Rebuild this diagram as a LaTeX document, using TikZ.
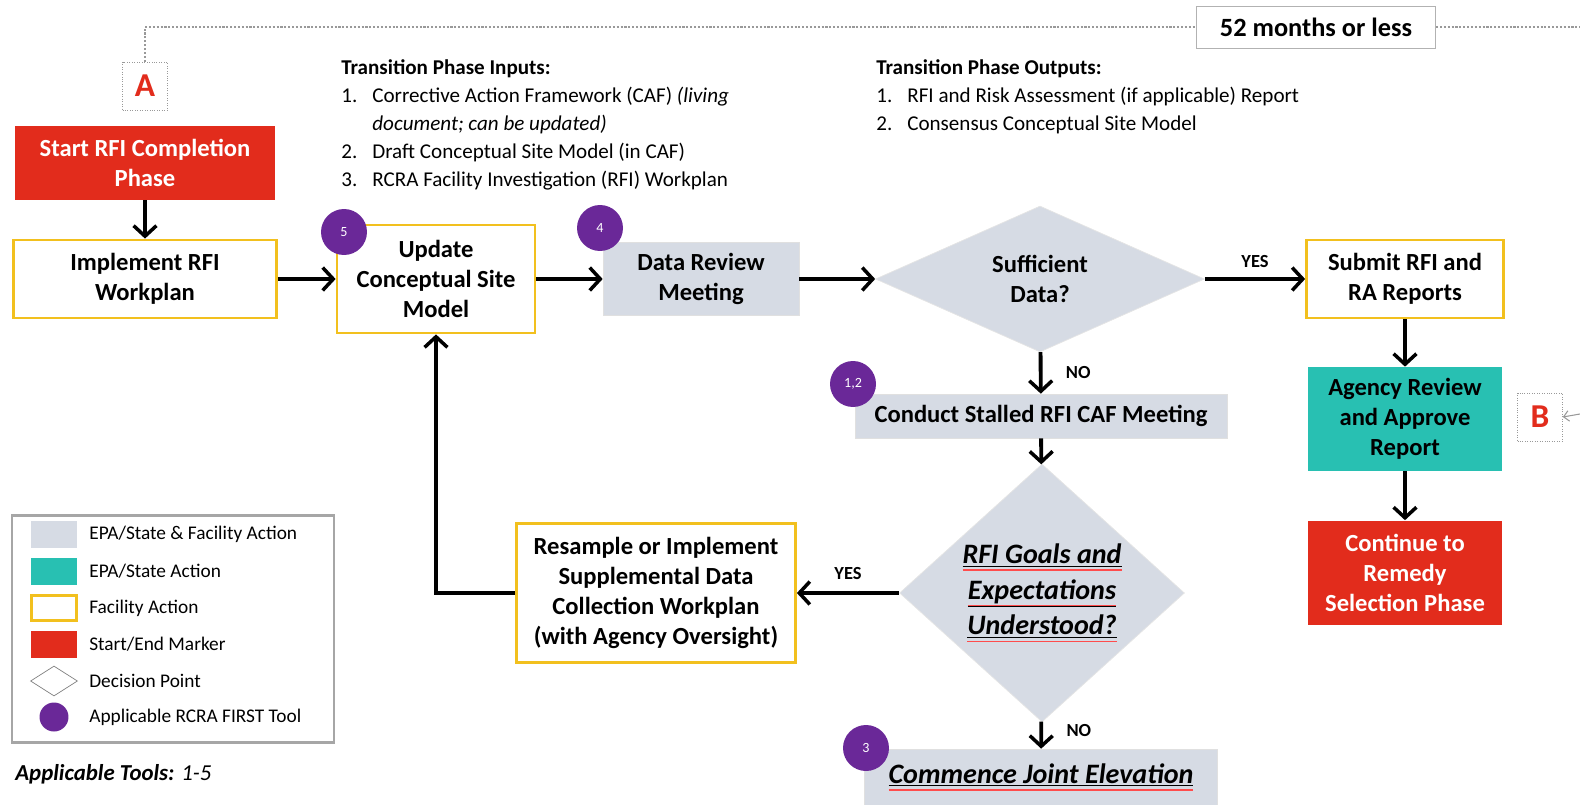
\documentclass[tikz,border=0pt]{standalone}
\usepackage{fontspec}
\setmainfont{Carlito}
\usepackage{xcolor}
\usepackage{tikz}
\usetikzlibrary{shapes.geometric}
\usetikzlibrary{arrows.meta}
\usetikzlibrary{positioning}
\definecolor{actgray}{RGB}{214,219,228}
\definecolor{actteal}{RGB}{40,192,178}
\definecolor{actred}{RGB}{226,44,28}
\definecolor{actgold}{RGB}{242,192,30}
\definecolor{toolpurple}{RGB}{106,40,152}
\newsavebox\spellbox
\newcommand\spell[1]{\sbox\spellbox{#1}\rlap{\textcolor{red!70}{\rule[-0.55ex]{\wd\spellbox}{0.9pt}}}\underline{\usebox\spellbox}}
\tikzset{
    facil/.style = {rectangle, draw=actgold, line width=1.6pt, fill=white, align=center, inner sep=2pt, font=\fontsize{14}{17}\selectfont\bfseries},
    joint/.style = {rectangle, draw=black!12, fill=actgray, align=center, inner sep=2pt, font=\fontsize{14}{17}\selectfont\bfseries},
    agency/.style = {rectangle, fill=actteal, align=center, inner sep=2pt, font=\fontsize{14}{17}\selectfont\bfseries},
    marker/.style = {rectangle, fill=actred, text=white, align=center, inner sep=2pt, font=\fontsize{14}{17}\selectfont\bfseries},
    decide/.style = {diamond, draw=black!10, fill=actgray, align=center, inner sep=0pt, font=\fontsize{14}{17}\selectfont\bfseries},
    tool/.style = {circle, fill=toolpurple, text=white, inner sep=0pt, minimum size=0.92cm, font=\fontsize{8}{9}\selectfont},
    letter/.style = {rectangle, draw=black!40, densely dotted, fill=white, text=actred, minimum width=0.9cm, minimum height=0.96cm, font=\fontsize{19}{21}\selectfont\bfseries},
}
\begin{document}
\begin{tikzpicture}[
	x=0.02cm, y=-0.02cm,
	arr/.style = {-{Straight Barb[length=6pt,width=13pt,line width=2pt]}, line width=2.2pt},
	lbl/.style = {font=\fontsize{10.5}{12}\selectfont\bfseries},
	leg/.style = {anchor=west, inner sep=0pt, font=\fontsize{11}{13}\selectfont},
	swatch/.style = {rectangle, minimum width=0.94cm, minimum height=0.54cm, inner sep=0pt}
]
\useasboundingbox (0,0) rectangle (1580,805);
% connectors A / B and time span
\node[letter] at (145,86) (a) {A};
\node[letter] at (1540,417) (b) {B};
\coordinate (topend) at (1580,27);
\coordinate (bin) at (1580,414);
\draw[black!40, densely dotted, line width=1.2pt] (a.north) |- (topend);
\draw[black!40, line width=0.6pt, -{Straight Barb[length=3pt,width=6pt]}] (bin) -- (b.east);
\node[rectangle, draw=black!30, fill=white, minimum width=4.78cm, minimum height=0.84cm, font=\fontsize{15}{18}\selectfont\bfseries] at (1316,27) (months) {52 months or less};
%
\node[anchor=north west, inner sep=0pt, font=\fontsize{12}{15.9}\selectfont] at (341,55) (inputs) {%
\begin{tabular}{@{}p{0.62cm}@{}l@{}}
\multicolumn{2}{@{}l@{}}{\bfseries Transition Phase Inputs:}\\
1. & Corrective Action Framework (CAF) \textit{(living}\\
   & \textit{document; can be updated)}\\
2. & Draft Conceptual Site Model (in CAF)\\
3. & RCRA Facility Investigation (RFI) Workplan
\end{tabular}};
\node[anchor=north west, inner sep=0pt, font=\fontsize{12}{15.9}\selectfont] at (876,55) (outputs) {%
\begin{tabular}{@{}p{0.62cm}@{}l@{}}
\multicolumn{2}{@{}l@{}}{\bfseries Transition Phase Outputs:}\\
1. & RFI and Risk Assessment (if applicable) Report\\
2. & Consensus Conceptual Site Model
\end{tabular}};
%
\node[marker, minimum width=5.22cm, minimum height=1.48cm] at (145,163) (start) {Start RFI Completion\\Phase};
\node[facil, minimum width=5.26cm, minimum height=1.56cm] at (145,279) (impl) {Implement RFI\\Workplan};
\node[facil, minimum width=3.96cm, minimum height=2.16cm] at (436,279) (update) {Update\\Conceptual Site\\Model};
\node[joint, minimum width=3.92cm, minimum height=1.46cm] at (701,279) (datarev) {Data Review\\Meeting};
\node[decide, minimum width=6.58cm, minimum height=2.92cm] at (1040,279) (suff) {Sufficient\\Data?};
\node[facil, minimum width=3.94cm, minimum height=1.56cm] at (1405,279) (submit) {Submit RFI and\\RA Reports};
\node[agency, minimum width=3.9cm, minimum height=2.08cm] at (1405,419) (approve) {Agency Review\\and Approve\\Report};
\node[marker, minimum width=3.9cm, minimum height=2.1cm] at (1405,573) (cont) {Continue to\\Remedy\\Selection Phase};
\node[joint, minimum width=7.44cm, minimum height=0.88cm] at (1041,416) (stall) {Conduct Stalled RFI CAF Meeting};
\node[decide, minimum width=5.7cm, minimum height=4.62cm, font=\fontsize{16}{20.4}\selectfont\bfseries\itshape] at (1042,593) (goals) {\spell{RFI Goals and}\\\spell{Expectations}\\\spell{Understood?}};
\node[facil, minimum width=5.58cm, minimum height=2.78cm] at (656,593) (resample) {Resample or Implement\\Supplemental Data\\Collection Workplan\\(with Agency Oversight)};
\node[joint, minimum width=7.06cm, minimum height=1.12cm, font=\fontsize{16}{19}\selectfont\bfseries\itshape] at (1041,777) (commence) {\spell{Commence Joint Elevation}};
%
\node[tool] at (344,232) (t5) {5};
\node[tool] at (600,228) (t4) {4};
\node[tool] at (853,384) (t12) {1,2};
\node[tool] at (866,748) (t3) {3};
%
\draw[arr] (start) -- (impl);
\draw[arr] (impl) -- (update);
\draw[arr] (update) -- (datarev);
\draw[arr] (datarev) -- (suff);
\draw[arr] (suff) -- node[lbl, above=2pt] {YES} (submit);
\draw[arr] (submit) -- (approve);
\draw[arr] (approve) -- (cont);
\draw[arr] (suff) -- node[lbl, right=0.35cm] {NO} (stall);
\draw[arr] (stall) -- (goals);
\draw[arr] (goals) -- node[lbl, above=3pt] {YES} (resample);
\draw[arr] (goals) -- node[lbl, right=0.35cm, yshift=0.1cm] {NO} (commence);
\draw[arr] (resample.west) -| (update.south);
%
% legend
\node[rectangle, draw=black!35, line width=1.4pt, minimum width=6.44cm, minimum height=4.54cm] at (173,629) (legend) {};
\node[swatch, fill=actgray] at (54,534) (s1) {};
\node[swatch, fill=actteal] at (54,571) (s2) {};
\node[swatch, draw=actgold, line width=1.2pt, minimum width=0.9cm, minimum height=0.5cm] at (54,608) (s3) {};
\node[swatch, fill=actred] at (54,644) (s4) {};
\node[diamond, draw=black!50, fill=white, aspect=1.6, inner sep=0pt, minimum width=0.94cm, minimum height=0.6cm] at (54,681) (s5) {};
\node[circle, fill=toolpurple, inner sep=0pt, minimum size=0.58cm] at (54,717) (s6) {};
\node[leg] at (89,534) (l1) {EPA/State \& Facility Action};
\node[leg] at (89,571) (l2) {EPA/State Action};
\node[leg] at (89,608) (l3) {Facility Action};
\node[leg] at (89,644) (l4) {Start/End Marker};
\node[leg] at (89,681) (l5) {Decision Point};
\node[leg] at (89,717) (l6) {Applicable RCRA FIRST Tool};
\node[anchor=west, inner sep=0pt, font=\fontsize{13}{15}\selectfont\itshape] at (15,774) (tools) {\textbf{Applicable Tools:} 1-5};
\end{tikzpicture}
\end{document}
